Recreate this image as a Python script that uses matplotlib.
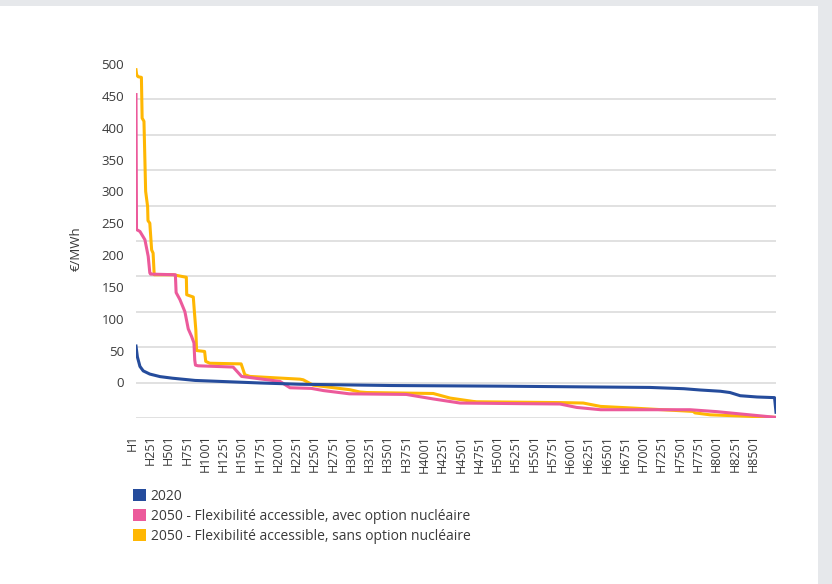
import numpy as np
import matplotlib
matplotlib.use("Agg")
import matplotlib.pyplot as plt
import matplotlib.transforms as mtransforms
from matplotlib.patches import Patch, Rectangle

plt.rcParams['font.family'] = ['Open Sans', 'DejaVu Sans']

# ---- data (hour of the sorted year, price €/MWh) ----
hours_2020 = [1, 20, 55, 100, 190, 330, 500, 810, 1700, 2245, 3500, 5000, 6000,
              7035, 7500, 7720, 8000, 8130, 8270, 8500, 8740, 8760]
price_2020 = [57, 40, 25, 18, 13, 9, 6.5, 3, -1, -3, -5, -6, -7,
              -8, -10, -12, -14, -16, -21, -23, -24, -47]

hours_avec = [1, 8, 55, 123, 168, 190, 200, 540, 550, 602, 670, 716, 762, 794,
              805, 815, 850, 1330, 1446, 1697, 1971, 2108, 2400, 2570, 2920,
              3700, 4065, 4435, 5300, 5803, 6032, 6360, 7583, 7948, 8171, 8760]
price_avec = [452, 240, 237, 224, 198, 172, 170, 169, 141, 130, 111, 84, 72, 62,
              35, 27, 26, 24, 9.3, 5.5, 1.5, -8.5, -9.5, -13, -18,
              -19, -26, -32.5, -33.5, -34, -39.4, -43, -43, -46, -48.5, -55]

hours_sans = [1, 10, 30, 75, 85, 110, 133, 160, 165, 190, 215, 235, 250, 510,
              690, 695, 785, 800, 820, 830, 940, 955, 1010, 1440, 1490, 1560,
              2245, 2290, 2427, 2929, 3066, 3160, 4069, 4300, 4617, 4663, 5800,
              6122, 6359, 6803, 7628, 7651, 7857, 8760]
price_sans = [491, 483, 480, 479, 415, 410, 300, 276, 254, 250, 208, 203, 169, 169,
              165, 137.6, 134, 111, 82, 50, 48.5, 33, 30, 29, 12, 9.3,
              5, 4, -4.5, -11.6, -15.2, -16, -17.5, -24.7, -30, -30.5, -31.8,
              -32.5, -37.8, -40.4, -45.7, -48, -51, -55]

series_names = ["2020",
                "2050 - Flexibilité accessible, avec option nucléaire",
                "2050 - Flexibilité accessible, sans option nucléaire"]
x_labels = ["H1", "H251", "H501", "H751", "H1001", "H1251", "H1501", "H1751",
            "H2001", "H2251", "H2501", "H2751", "H3001", "H3251", "H3501",
            "H3751", "H4001", "H4251", "H4501", "H4751", "H5001", "H5251",
            "H5501", "H5751", "H6001", "H6251", "H6501", "H6751", "H7001",
            "H7251", "H7501", "H7751", "H8001", "H8251", "H8501"]
y_ticks = list(range(0, 501, 50))

c_blue = "#254c9c"
c_pink = "#ec5a9b"
c_yellow = "#ffb703"
txt = "#3a3a3a"

W, H = 832, 584
fig = plt.figure(figsize=(W / 100, H / 100), dpi=100)
fig.patch.set_facecolor("#e6e8eb")
fig.patches.append(Rectangle((0, 0), 818 / W, 578 / H, transform=fig.transFigure,
                             facecolor="white", edgecolor="none", zorder=-10))

L, R, T, B = 136, 776, 64, 418
ax = fig.add_axes([L / W, 1 - B / H, (R - L) / W, (B - T) / H])
ax.set_facecolor("none")

ax.plot(hours_sans, price_sans, color=c_yellow, lw=2.2, zorder=3, solid_joinstyle="round")
ax.plot(hours_avec, price_avec, color=c_pink, lw=2.2, zorder=4, solid_joinstyle="round")
ax.plot(hours_2020, price_2020, color=c_blue, lw=2.2, zorder=5, solid_joinstyle="round")

ax.set_xlim(1, 8760)
ax.set_ylim(-56, 500)
ax.set_yticks(y_ticks)
ax.set_yticklabels([str(v) for v in y_ticks], fontsize=9.5, color=txt)
ax.set_yticks(np.linspace(-56, 500, 11), minor=True)
ax.grid(False)
ax.grid(True, which="minor", axis="y", color="#d9d9d9", lw=1.1)
ax.tick_params(axis="y", which="both", length=0, pad=8.5)

xt = [int(s[1:]) for s in x_labels]
ax.set_xticks(xt)
ax.set_xticklabels(x_labels, rotation=90, fontsize=9, color=txt)
ax.tick_params(axis="x", length=0, pad=12)
off = mtransforms.ScaledTranslation(-4 / 100, 0, fig.dpi_scale_trans)
for lab in ax.get_xticklabels():
    lab.set_transform(lab.get_transform() + off)

for s in ax.spines.values():
    s.set_visible(False)

fig.text(76 / W, 1 - 249 / H, "€/MWh", rotation=90, ha="center", va="center",
         fontsize=9.5, color=txt)

handles = [Patch(facecolor=c, edgecolor="none") for c in (c_blue, c_pink, c_yellow)]
leg = fig.legend(handles, series_names, loc="upper left",
                 bbox_to_anchor=(129 / W, 1 - 485 / H), frameon=False,
                 fontsize=10, handlelength=0.95, handleheight=0.95,
                 handletextpad=0.3, labelspacing=0.36, borderaxespad=0,
                 borderpad=0.3)
for t in leg.get_texts():
    t.set_color(txt)

fig.savefig("out.png", dpi=100)
